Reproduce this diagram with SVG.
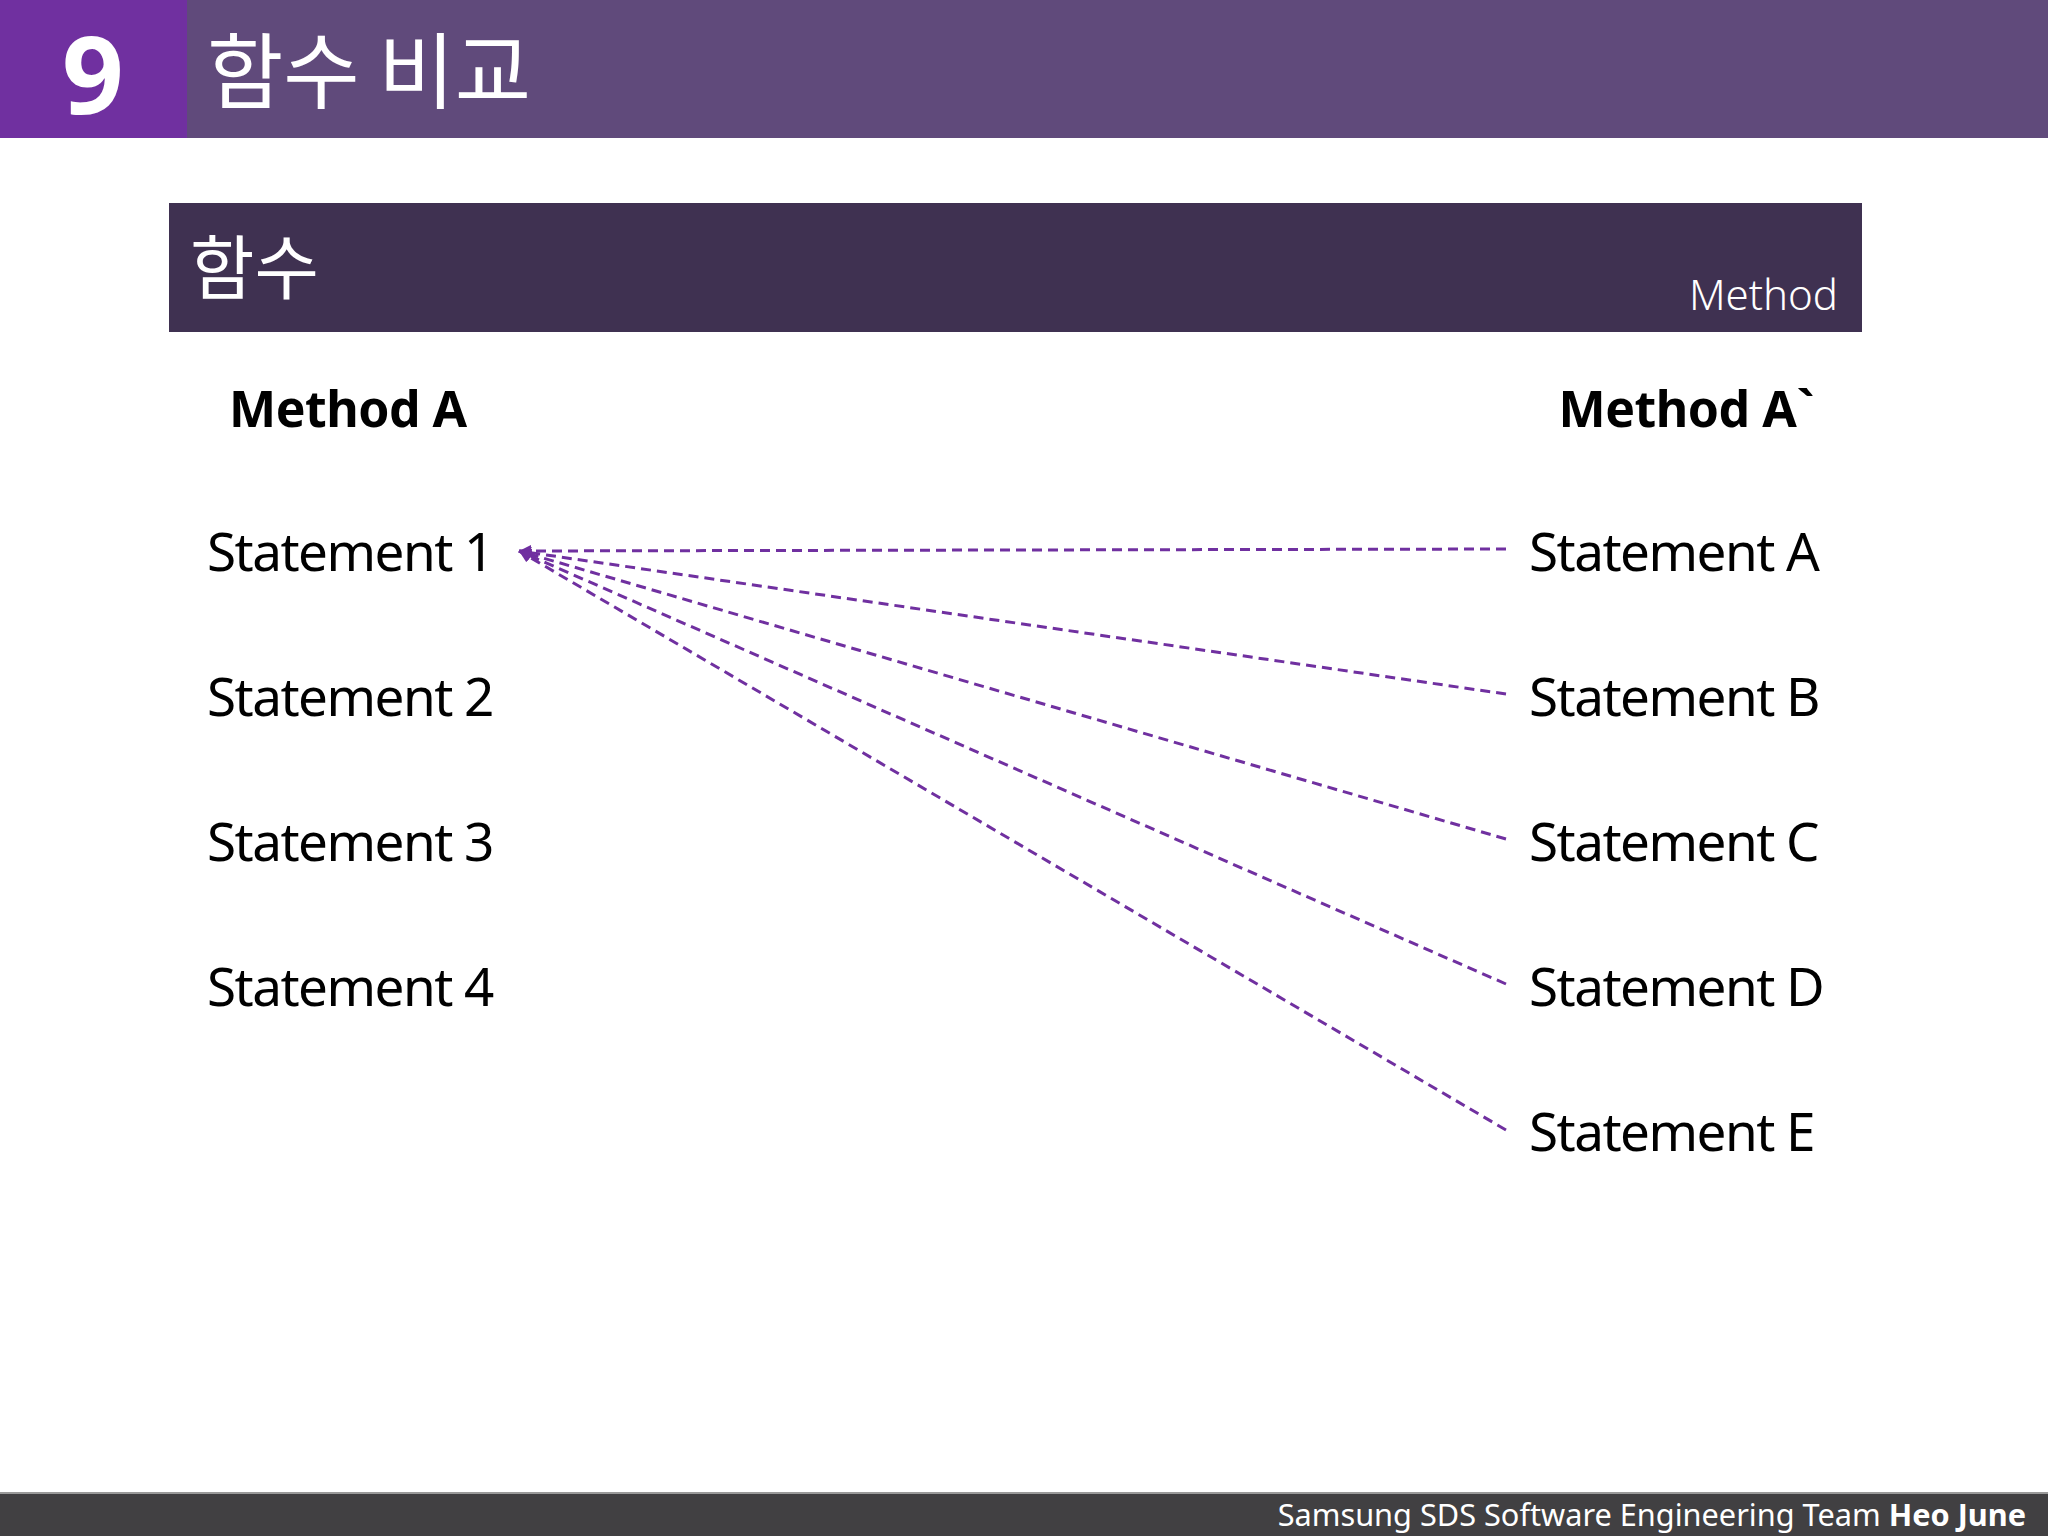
<svg xmlns="http://www.w3.org/2000/svg" width="2048" height="1536" viewBox="0 0 2048 1536">
<style>
.kr{font-family:"Noto Sans CJK KR","Noto Sans",sans-serif;fill:#ffffff}
.st{font-family:"Noto Sans","Open Sans",sans-serif;font-size:53px;letter-spacing:-1.5px;fill:#000000}
.hd{font-family:"Noto Sans","Open Sans",sans-serif;font-size:50px;letter-spacing:-0.5px;font-weight:bold;fill:#000000}
.ln{stroke:#7030a0;stroke-width:3;stroke-dasharray:10 6;fill:none}
</style>
<defs>
<marker id="arr" viewBox="0 0 10 10" refX="10" refY="5" markerWidth="4" markerHeight="4" orient="auto" markerUnits="strokeWidth">
<path d="M0,0 L10,5 L0,10 z" fill="#7030a0"/>
</marker>
</defs>
<rect x="0" y="0" width="2048" height="1536" fill="#ffffff"/>
<g id="header">
<rect x="0" y="0" width="2048" height="138" fill="#604a7b"/>
<rect x="0" y="0" width="187" height="138" fill="#7030a0"/>
<text x="93" y="114" text-anchor="middle" font-family="'Noto Sans','Open Sans',sans-serif" font-weight="bold" font-size="108" fill="#ffffff">9</text>
<text class="kr" x="207" y="102" font-size="83">함수 비교</text>
</g>
<g id="subtitle">
<rect x="169" y="203" width="1693" height="129" fill="#3f3151"/>
<text class="kr" x="190" y="294" font-size="70">함수</text>
<text x="1838" y="310" text-anchor="end" font-family="'Noto Sans','Open Sans',sans-serif" font-weight="300" font-size="42" fill="#ffffff">Method</text>
</g>
<g id="methodA"><text class="hd" x="229" y="427">Method A</text></g>
<g id="methodA2"><text class="hd" x="1814" y="427" text-anchor="end">Method A`</text></g>
<g id="s1"><text class="st" x="207" y="571">Statement 1</text></g>
<g id="s2"><text class="st" x="207" y="716">Statement 2</text></g>
<g id="s3"><text class="st" x="207" y="861">Statement 3</text></g>
<g id="s4"><text class="st" x="207" y="1006">Statement 4</text></g>
<g id="sA"><text class="st" x="1529" y="571">Statement A</text></g>
<g id="sB"><text class="st" x="1529" y="716">Statement B</text></g>
<g id="sC"><text class="st" x="1529" y="861">Statement C</text></g>
<g id="sD"><text class="st" x="1529" y="1006">Statement D</text></g>
<g id="sE"><text class="st" x="1529" y="1151">Statement E</text></g>
<g id="connectors">
<line class="ln" x1="1506" y1="549" x2="519" y2="551" marker-end="url(#arr)"/>
<line class="ln" x1="1506" y1="694" x2="519" y2="551" marker-end="url(#arr)"/>
<line class="ln" x1="1506" y1="839" x2="519" y2="551" marker-end="url(#arr)"/>
<line class="ln" x1="1506" y1="984" x2="519" y2="551" marker-end="url(#arr)"/>
<line class="ln" x1="1506" y1="1130" x2="519" y2="551" marker-end="url(#arr)"/>
</g>
<g id="footer">
<rect x="0" y="1493" width="2048" height="43" fill="#414042"/>
<rect x="0" y="1492" width="2048" height="2" fill="#9a9a9a"/>
<text x="2026" y="1526" text-anchor="end" font-family="'Noto Sans','Open Sans',sans-serif" font-size="30.7" fill="#ffffff">Samsung SDS Software Engineering Team <tspan font-weight="bold">Heo June</tspan></text>
</g>
</svg>
